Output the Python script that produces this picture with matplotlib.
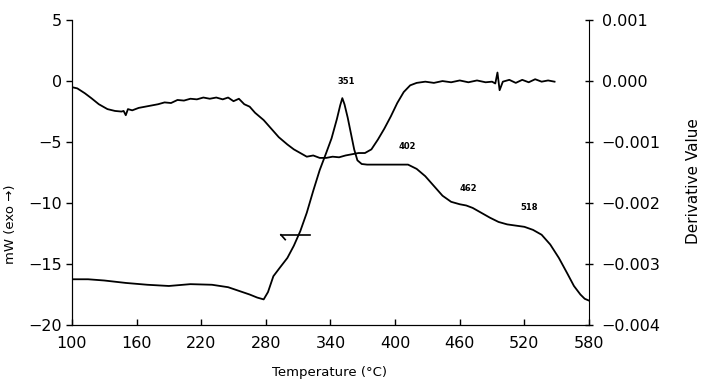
import numpy as np
import matplotlib
matplotlib.use("Agg")
import matplotlib.pyplot as plt

# DSC curve, mW (left axis)
dsc_temp = [100, 115, 130, 150, 170, 190, 210, 230, 245, 255, 265, 272, 278, 282,
            287, 293, 300, 306, 312, 318, 324, 330, 336, 341, 346, 349, 351, 353,
            356, 359, 362, 365, 369, 374, 385, 400, 412, 420, 428, 436, 444, 452,
            460, 466, 472, 480, 488, 496, 504, 512, 520, 528, 536, 544, 552, 560,
            566, 572, 576, 580]
dsc_mw = [-16.25, -16.25, -16.35, -16.55, -16.7, -16.8, -16.65, -16.7, -16.9, -17.2,
          -17.5, -17.75, -17.9, -17.3, -16.0, -15.3, -14.5, -13.5, -12.3, -10.8,
          -9.0, -7.3, -5.9, -4.7, -3.1, -2.0, -1.4, -1.9, -3.0, -4.3, -5.6, -6.5,
          -6.8, -6.85, -6.85, -6.85, -6.85, -7.2, -7.8, -8.6, -9.4, -9.9, -10.1,
          -10.2, -10.4, -10.8, -11.2, -11.55, -11.75, -11.85, -11.95, -12.2, -12.6,
          -13.4, -14.5, -15.8, -16.8, -17.5, -17.85, -18.0]

# derivative curve (right axis), in units of 1e-4
deriv_temp = [100, 105, 112, 118, 125, 133, 140, 146, 148, 150, 152, 156, 162, 168,
              174, 180, 186, 192, 198, 204, 210, 216, 222, 228, 234, 240, 245, 250,
              255, 260, 265, 270, 278, 285, 292, 300, 306, 312, 318, 324, 330, 336,
              342, 348, 354, 360, 366, 372, 378, 384, 390, 396, 402, 408, 414, 420,
              428, 436, 444, 452, 460, 468, 476, 484, 490, 493, 495, 497, 500, 506,
              512, 518, 524, 530, 536, 542, 548]
deriv_e4 = [-1.0, -1.2, -2.0, -2.8, -3.8, -4.6, -4.9, -5.0, -4.9, -5.6, -4.6, -4.8,
            -4.4, -4.2, -4.0, -3.8, -3.5, -3.6, -3.1, -3.2, -2.9, -3.0, -2.7, -2.9,
            -2.7, -3.0, -2.7, -3.3, -2.9, -3.8, -4.2, -5.2, -6.4, -7.8, -9.2, -10.4,
            -11.2, -11.8, -12.4, -12.2, -12.6, -12.6, -12.4, -12.5, -12.2, -12.0,
            -11.8, -11.8, -11.2, -9.6, -7.8, -5.8, -3.6, -1.8, -0.7, -0.3, -0.1,
            -0.3, 0.0, -0.2, 0.1, -0.2, 0.1, -0.2, -0.1, -0.4, 1.4, -1.5, -0.1, 0.2,
            -0.3, 0.2, -0.2, 0.3, -0.1, 0.1, -0.1]

peak_labels = ["351", "402", "462", "518"]
peak_x = [355, 411, 468, 524]
peak_y = [0.0, -5.4, -8.8, -10.4]

xticks = [100, 160, 220, 280, 340, 400, 460, 520, 580]

fig = plt.figure(figsize=(7.05, 3.86), dpi=100)
ax = fig.add_axes([0.102, 0.158, 0.7335, 0.79])
ax2 = ax.twinx()

ax.plot(dsc_temp, dsc_mw, color="black", lw=1.3)
ax2.plot(deriv_temp, np.array(deriv_e4) * 1e-4, color="black", lw=1.3)

for lab, x, y in zip(peak_labels, peak_x, peak_y):
    ax.text(x, y, lab, fontsize=6, fontweight="bold", ha="center", va="center")

# arrow marking the DSC curve -> left axis
ax.plot([294, 321], [-12.6, -12.6], color="black", lw=1.2)
ax.plot([294, 298], [-12.6, -13.0], color="black", lw=1.2)

ax.set_xlim(100, 580)
ax.set_ylim(-20, 5)
ax2.set_ylim(-0.004, 0.001)
ax.set_xticks(xticks)
ax.set_yticks([5, 0, -5, -10, -15, -20])
ax2.set_yticks([0.001, 0.0, -0.001, -0.002, -0.003, -0.004])
ax2.set_yticklabels(["0.001", "0.000", "\u22120.001", "\u22120.002",
                     "\u22120.003", "\u22120.004"])

for a in (ax, ax2):
    a.spines["top"].set_visible(False)
ax.spines["right"].set_visible(False)
ax.tick_params(axis="y", direction="out", length=4, width=1, labelsize=11.5, pad=3)
ax.tick_params(axis="x", direction="in", length=4, width=1, labelsize=11.5, pad=8)
ax2.tick_params(axis="y", direction="inout", length=6, width=1, labelsize=11.5, pad=6)

fig.text(0.468, 0.035, "Temperature (\u00b0C)", fontsize=9.5, ha="center", va="center")
fig.text(0.015, 0.42, "mW (exo \u2192)", fontsize=9.5, rotation=90, ha="center", va="center")
fig.text(0.983, 0.53, "Derivative Value", fontsize=11, rotation=90, ha="center", va="center")

fig.savefig("out.png", dpi=100)
